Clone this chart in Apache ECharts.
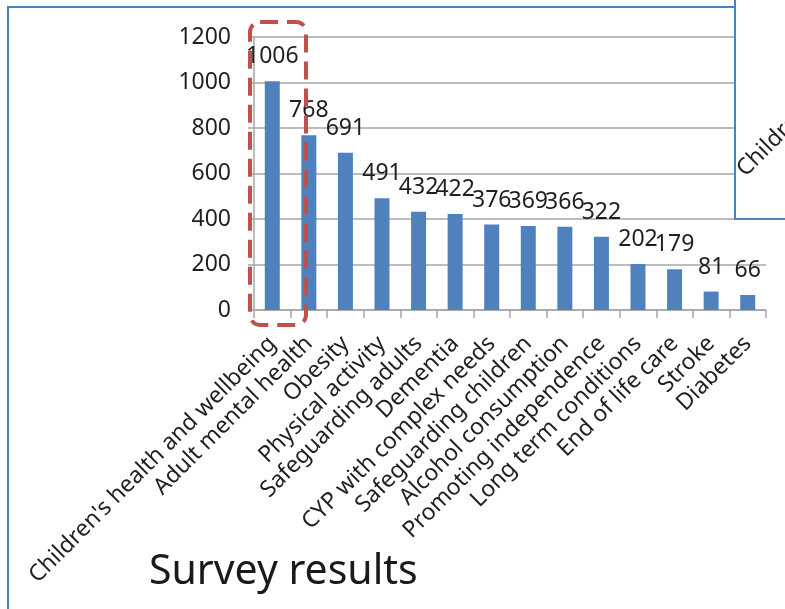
<!DOCTYPE html>
<html>
<head>
<meta charset="utf-8">
<script src="https://cdn.jsdelivr.net/npm/echarts@6/dist/echarts.min.js"></script>
<style>
  html, body { margin: 0; padding: 0; background: #fff; }
  #chart { width: 785px; height: 609px; }
</style>
</head>
<body>
<div id="chart"></div>
<script>
// Survey topics and the number of responses for each
const categories = [
  "Children's health and wellbeing",
  "Adult mental health",
  "Obesity",
  "Physical activity",
  "Safeguarding adults",
  "Dementia",
  "CYP with complex needs",
  "Safeguarding children",
  "Alcohol consumption",
  "Promoting independence",
  "Long term conditions",
  "End of life care",
  "Stroke",
  "Diabetes"
];
const responses = [1006, 768, 691, 491, 432, 422, 376, 369, 366, 322, 202, 179, 81, 66];
const yTicks = [0, 200, 400, 600, 800, 1000, 1200];

const FONT = '"Noto Sans", "Open Sans", sans-serif';
const TEXT = '#1f1f1f';
const GRID = '#a6a6a6';

const chart = echarts.init(document.getElementById('chart'), null, { renderer: 'canvas' });

chart.setOption({
  animation: false,
  backgroundColor: '#ffffff',
  grid: { left: 254, right: 19, top: 37, bottom: 299, containLabel: false },
  xAxis: {
    type: 'category',
    data: categories,
    axisLine: { show: true, lineStyle: { color: GRID, width: 1.5 } },
    axisTick: { show: true, length: 8, alignWithLabel: false, lineStyle: { color: GRID, width: 1.5 } },
    axisLabel: {
      interval: 0,
      rotate: 45,
      margin: 30,
      fontFamily: FONT,
      fontSize: 23,
      color: TEXT
    }
  },
  yAxis: {
    type: 'value',
    min: yTicks[0],
    max: yTicks[yTicks.length - 1],
    interval: yTicks[1] - yTicks[0],
    axisLine: { show: true, lineStyle: { color: GRID, width: 1.5 } },
    axisTick: { show: true, length: 6, lineStyle: { color: GRID, width: 1.5 } },
    splitLine: { show: true, lineStyle: { color: GRID, width: 1.5 } },
    axisLabel: {
      margin: 23,
      fontFamily: FONT,
      fontSize: 23,
      color: TEXT,
      formatter: (v) => String(v)
    }
  },
  series: [{
    type: 'bar',
    data: responses,
    barWidth: 15,
    itemStyle: { color: '#4f81bd' },
    label: {
      show: true,
      position: 'top',
      distance: 13,
      fontFamily: FONT,
      fontSize: 23,
      color: TEXT
    }
  }],
  graphic: [
    // outer frame of the slide panel
    {
      type: 'rect',
      shape: { x: 8, y: 7, width: 820, height: 640 },
      style: { fill: 'none', stroke: '#4f81bd', lineWidth: 2 },
      z: 10
    },
    // neighbouring panel peeking in at the right
    {
      type: 'rect',
      shape: { x: 735, y: -10, width: 100, height: 229 },
      style: { fill: '#ffffff', stroke: '#4f81bd', lineWidth: 2 },
      z: 10
    },
    {
      type: 'text',
      x: 749,
      y: 181,
      rotation: Math.PI / 4,
      style: {
        text: "Children's",
        font: '23px ' + FONT,
        fill: TEXT,
        textAlign: 'left',
        textVerticalAlign: 'bottom'
      },
      z: 11
    },
    // highlight around the top topic
    {
      type: 'rect',
      shape: { x: 250, y: 22, width: 56, height: 303, r: 10 },
      style: { fill: 'none', stroke: '#c0504d', lineWidth: 4, lineDash: [18, 9] },
      z: 12
    },
    // caption
    {
      type: 'text',
      left: 149,
      top: 552,
      style: {
        text: 'Survey results',
        font: '41px ' + FONT,
        fill: '#1a1a1a'
      },
      z: 12
    }
  ]
});
</script>
</body>
</html>
